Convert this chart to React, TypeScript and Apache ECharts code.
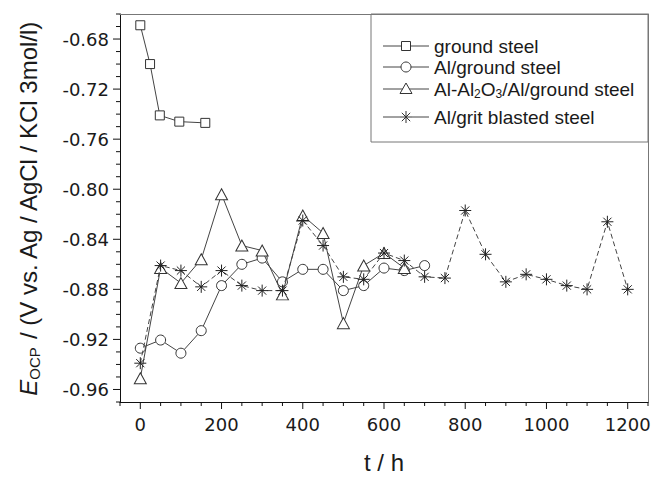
import React, { useEffect, useRef } from "react";
import * as echarts from "echarts";

// ---- data ----
const groundT = [0, 24, 48, 96, 160];
const groundV = [-0.669, -0.7, -0.741, -0.746, -0.747];

const alGroundT = [0, 50, 100, 150, 200, 250, 300, 350, 400, 450, 500, 550, 600, 650, 700];
const alGroundV = [-0.927, -0.9205, -0.931, -0.913, -0.877, -0.86, -0.855, -0.874, -0.864, -0.864, -0.881, -0.877, -0.863, -0.865, -0.861];

const alOxT = [0, 50, 100, 150, 200, 250, 300, 350, 400, 450, 500, 550, 600, 650];
const alOxV = [-0.951, -0.863, -0.875, -0.856, -0.804, -0.845, -0.849, -0.884, -0.821, -0.835, -0.907, -0.861, -0.851, -0.863];

const gritT = [0, 50, 100, 150, 200, 250, 300, 350, 400, 450, 500, 550, 600, 650, 700, 750, 800, 850, 900, 950, 1000, 1050, 1100, 1150, 1200];
const gritV = [-0.939, -0.861, -0.865, -0.878, -0.865, -0.877, -0.881, -0.881, -0.825, -0.845, -0.87, -0.872, -0.851, -0.857, -0.87, -0.871, -0.817, -0.852, -0.874, -0.868, -0.872, -0.877, -0.88, -0.826, -0.88];

const xTickLabels = [0, 200, 400, 600, 800, 1000, 1200];
const xMinorTicks = [-50, 50, 100, 150, 250, 300, 350, 450, 500, 550, 650, 700, 750, 850, 900, 950, 1050, 1100, 1150, 1250];
const yTickLabels = [-0.96, -0.92, -0.88, -0.84, -0.8, -0.76, -0.72, -0.68];
const yMinorTicks = [-0.97, -0.95, -0.94, -0.93, -0.91, -0.9, -0.89, -0.87, -0.86, -0.85, -0.83, -0.82, -0.81, -0.79, -0.78, -0.77, -0.75, -0.74, -0.73, -0.71, -0.7, -0.69, -0.67, -0.66];

const X_MIN = -50, X_MAX = 1250, Y_MIN = -0.97, Y_MAX = -0.66;

const legendNames = [
  "ground steel",
  "Al/ground steel",
  "{n|Al-Al}{s|2}{n|O}{s|3}{n|/Al/ground steel}",
  "Al/grit blasted steel",
];

const zip = (a: number[], b: number[]) => a.map((t, i) => [t, b[i]]);

const ASTERISK = "path://M5 0 L5 10 M0 5 L10 5 M1.6 1.6 L8.4 8.4 M8.4 1.6 L1.6 8.4";

const LINE = "#444";
const MARK = "#333";
const TXT = "#1a1a1a";
const AX = "#111";
const FONT = "Liberation Sans";
const TICKFONT = "DejaVu Sans";

function legendGraphic() {
  const rowsY = [46, 67, 89, 117];
  const x1 = 383, x2 = 429, mx = 406, tx = 434;
  const children: any[] = [];
  children.push({
    type: "rect",
    shape: { x: 371, y: 14, width: 277, height: 128 },
    style: { fill: "#fff", stroke: "#777", lineWidth: 1 },
  });
  rowsY.forEach((y, i) => {
    children.push({
      type: "line",
      shape: { x1, y1: y, x2, y2: y },
      style: { stroke: LINE, lineWidth: 1 },
    });
    const ms = { fill: "#fff", stroke: MARK, lineWidth: 1 };
    if (i === 0) children.push({ type: "rect", shape: { x: mx - 4.5, y: y - 4.5, width: 9, height: 9 }, style: ms });
    if (i === 1) children.push({ type: "circle", shape: { cx: mx, cy: y, r: 5 }, style: ms });
    if (i === 2)
      children.push({ type: "polygon", shape: { points: [[mx, y - 6], [mx + 6, y + 4.5], [mx - 6, y + 4.5]] }, style: ms });
    if (i === 3) {
      children.push({ type: "rect", shape: { x: mx - 6, y: y - 6, width: 12, height: 12 }, style: { fill: "#fff" } });
      const r = 6, d = 4.2;
      [[0, -r, 0, r], [-r, 0, r, 0], [-d, -d, d, d], [d, -d, -d, d]].forEach((s) =>
        children.push({
          type: "line",
          shape: { x1: mx + s[0], y1: y + s[1], x2: mx + s[2], y2: y + s[3] },
          style: { stroke: MARK, lineWidth: 1 },
        })
      );
    }
    children.push({
      type: "text",
      x: tx,
      y,
      style: {
        text: legendNames[i],
        fill: TXT,
        font: `19px "${FONT}"`,
        fontSize: 19,
        fontFamily: FONT,
        verticalAlign: "middle",
        align: "left",
        rich: {
          n: { fontSize: 19, fontFamily: FONT, fill: TXT, lineHeight: 22 },
          s: { fontSize: 12, fontFamily: FONT, fill: TXT, lineHeight: 12, verticalAlign: "bottom" },
        },
      },
    });
  });
  return [{ type: "group", children, z: 100 }];
}

// tick marks drawn through the axis scales with a custom series
function tickSeries(values: number[], dir: "x" | "y", len: number) {
  return {
    type: "custom",
    coordinateSystem: "cartesian2d",
    xAxisIndex: 0,
    yAxisIndex: 0,
    silent: true,
    clip: false,
    z: 1,
    data: values.map((v) => (dir === "x" ? [v, Y_MIN] : [X_MIN, v])),
    renderItem: (params: any, api: any) => {
      const p = api.coord([api.value(0), api.value(1)]);
      const shape =
        dir === "x"
          ? { x1: p[0], y1: p[1], x2: p[0], y2: p[1] + len }
          : { x1: p[0] - len, y1: p[1], x2: p[0], y2: p[1] };
      return { type: "line", shape, style: { stroke: AX, lineWidth: 1 } };
    },
  };
}

export default function App() {
  const ref = useRef<HTMLDivElement>(null);
  useEffect(() => {
    if (!ref.current) return;
    const chart = echarts.init(ref.current, null, { renderer: "svg" });
    const axisLine = { show: true, onZero: false, lineStyle: { color: AX, width: 1 } };
    const frameLine = { show: true, onZero: false, lineStyle: { color: "#777", width: 1 } };
    const option: any = {
      animation: false,
      backgroundColor: "#fff",
      grid: { left: 120, right: 6, top: 14, bottom: 79 },
      xAxis: [
        {
          type: "value",
          min: X_MIN,
          max: X_MAX,
          position: "bottom",
          axisLine,
          splitLine: { show: false },
          axisTick: { show: false },
          axisLabel: {
            customValues: xTickLabels,
            margin: 13,
            fontSize: 18,
            fontFamily: TICKFONT,
            color: TXT,
            formatter: (v: number) => String(v),
          },
          name: "t / h",
          nameLocation: "middle",
          nameGap: 48,
          nameTextStyle: { fontSize: 24, fontFamily: FONT, color: TXT },
        },
        {
          type: "value",
          min: X_MIN,
          max: X_MAX,
          position: "top",
          axisLine: frameLine,
          splitLine: { show: false },
          axisLabel: { show: false },
          axisTick: { show: false },
        },
      ],
      yAxis: [
        {
          type: "value",
          min: Y_MIN,
          max: Y_MAX,
          position: "left",
          axisLine,
          splitLine: { show: false },
          axisTick: { show: false },
          axisLabel: {
            customValues: yTickLabels,
            margin: 11,
            fontSize: 18,
            fontFamily: TICKFONT,
            color: TXT,
            formatter: (v: number) => v.toFixed(2),
          },
          name: "{e|E}{s|OCP}{n| / (V vs. Ag / AgCl / KCl 3mol/l)}",
          nameLocation: "middle",
          nameGap: 78,
          nameRotate: 90,
          nameTextStyle: {
            fontSize: 24,
            fontFamily: FONT,
            color: TXT,
            rich: {
              e: { fontSize: 24, fontFamily: FONT, fontStyle: "italic", color: TXT, lineHeight: 27 },
              s: { fontSize: 15, fontFamily: FONT, color: TXT, lineHeight: 15, verticalAlign: "bottom" },
              n: { fontSize: 24, fontFamily: FONT, color: TXT, lineHeight: 27 },
            },
          },
        },
        {
          type: "value",
          min: Y_MIN,
          max: Y_MAX,
          position: "right",
          axisLine: frameLine,
          splitLine: { show: false },
          axisLabel: { show: false },
          axisTick: { show: false },
        },
      ],
      series: [
        tickSeries(xTickLabels, "x", 7),
        tickSeries(xMinorTicks, "x", 4),
        tickSeries(yTickLabels, "y", 7),
        tickSeries(yMinorTicks, "y", 4),
        {
          name: "ground steel",
          type: "line",
          data: zip(groundT, groundV),
          symbol: "rect",
          symbolSize: 9,
          lineStyle: { color: LINE, width: 1 },
          itemStyle: { color: "#fff", borderColor: MARK, borderWidth: 1 },
          z: 3,
        },
        {
          name: "Al/ground steel",
          type: "line",
          data: zip(alGroundT, alGroundV),
          symbol: "circle",
          symbolSize: 10,
          lineStyle: { color: LINE, width: 1 },
          itemStyle: { color: "#fff", borderColor: MARK, borderWidth: 1 },
          z: 4,
        },
        {
          name: "Al-Al2O3/Al/ground steel",
          type: "line",
          data: zip(alOxT, alOxV),
          symbol: "triangle",
          symbolSize: [12, 11],
          lineStyle: { color: LINE, width: 1 },
          itemStyle: { color: "#fff", borderColor: MARK, borderWidth: 1 },
          z: 5,
        },
        {
          name: "Al/grit blasted steel",
          type: "line",
          data: zip(gritT, gritV),
          symbol: ASTERISK,
          symbolSize: 12,
          lineStyle: { color: LINE, width: 1, type: [5, 3] },
          itemStyle: { color: "#fff", borderColor: "#222", borderWidth: 1 },
          z: 6,
        },
      ],
      graphic: legendGraphic(),
    };
    chart.setOption(option);
    return () => chart.dispose();
  }, []);
  return (
    <div
      ref={ref}
      style={{ position: "fixed", left: 0, top: 0, width: 654, height: 481, background: "#fff" }}
    />
  );
}
